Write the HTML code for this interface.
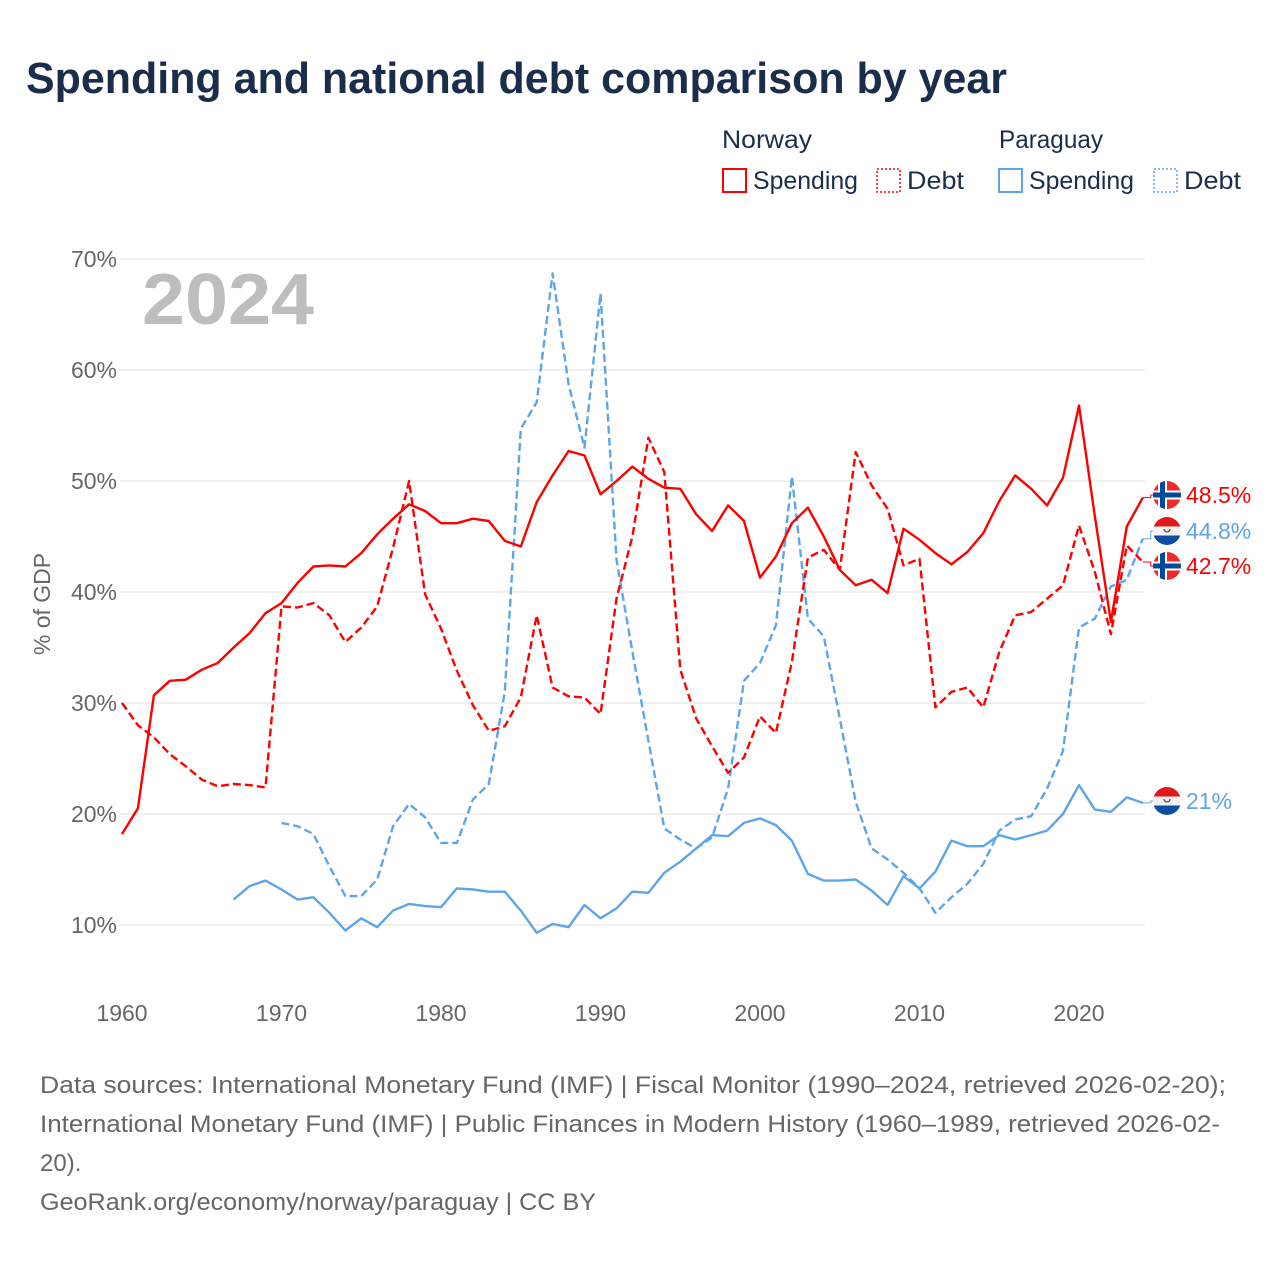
<!DOCTYPE html>
<html><head><meta charset="utf-8"><style>
body{margin:0;background:#fff;width:1280px;height:1280px;overflow:hidden;font-family:"Liberation Sans",sans-serif}
</style></head><body>
<svg id="chart" width="1280" height="1280" xmlns="http://www.w3.org/2000/svg" font-family="Liberation Sans, sans-serif">
<defs>
<clipPath id="fc"><circle cx="0" cy="0" r="14"/></clipPath>
<g id="flag-no">
<g clip-path="url(#fc)"><rect x="-14" y="-14" width="28" height="28" fill="#ef2b2d"/><rect x="-9" y="-14" width="9" height="28" fill="#fff"/><rect x="-14" y="-4.5" width="28" height="9" fill="#fff"/><rect x="-7" y="-14" width="5" height="28" fill="#00489a"/><rect x="-14" y="-2.5" width="28" height="5" fill="#00489a"/></g></g>
<g id="flag-py">
<g clip-path="url(#fc)"><rect x="-14" y="-14" width="28" height="10" fill="#e0191d"/><rect x="-14" y="-4.5" width="28" height="9" fill="#f2f2f2"/><rect x="-14" y="4.5" width="28" height="10" fill="#0b4ea2"/><path d="M-3,-2 A3,3 0 0 0 3,-2" fill="none" stroke="#555" stroke-width="1.3"/></g></g>
</defs>
<text x="26" y="93" font-size="44" font-weight="bold" fill="#1a2e4c" textLength="981" lengthAdjust="spacingAndGlyphs">Spending and national debt comparison by year</text>
<g fill="#1a2e4c" font-size="25">
<text x="722" y="148" textLength="90" lengthAdjust="spacingAndGlyphs">Norway</text>
<text x="999" y="148" textLength="104" lengthAdjust="spacingAndGlyphs">Paraguay</text>
<g><rect x="723" y="169" width="23" height="23" fill="none" stroke="#f00" stroke-width="2"/><text x="753" y="189" textLength="105" lengthAdjust="spacingAndGlyphs">Spending</text></g>
<g><rect x="877" y="169" width="23" height="23" fill="none" stroke="#f00" stroke-width="1.5" stroke-dasharray="2,2"/><text x="907" y="189" textLength="57" lengthAdjust="spacingAndGlyphs">Debt</text></g>
<g><rect x="999" y="169" width="23" height="23" fill="none" stroke="#5ea5e8" stroke-width="2"/><text x="1029" y="189" textLength="105" lengthAdjust="spacingAndGlyphs">Spending</text></g>
<g><rect x="1154" y="169" width="23" height="23" fill="none" stroke="#5ea5e8" stroke-width="1.5" stroke-dasharray="2,2"/><text x="1184" y="189" textLength="57" lengthAdjust="spacingAndGlyphs">Debt</text></g>
</g>
<text x="142" y="324" font-size="72" font-weight="bold" fill="#bdbdbd" textLength="172" lengthAdjust="spacingAndGlyphs">2024</text>
<text transform="translate(50,604) rotate(-90)" text-anchor="middle" font-size="23" fill="#666">% of GDP</text>
<g id="grid"></g><g id="series"></g><g id="ends"></g>
<g font-size="24" fill="#666">
<text x="40" y="1093" textLength="1186" lengthAdjust="spacingAndGlyphs">Data sources: International Monetary Fund (IMF) | Fiscal Monitor (1990–2024, retrieved 2026-02-20);</text>
<text x="40" y="1132" textLength="1180" lengthAdjust="spacingAndGlyphs">International Monetary Fund (IMF) | Public Finances in Modern History (1960–1989, retrieved 2026-02-</text>
<text x="40" y="1171">20).</text>
<text x="40" y="1210" textLength="556" lengthAdjust="spacingAndGlyphs">GeoRank.org/economy/norway/paraguay | CC BY</text>
</g>
</svg>
<script>
const yTicks=[10,20,30,40,50,60,70];
const xTicks=[1960,1970,1980,1990,2000,2010,2020];
const noStart=1960;
const noSpending=[18.2,20.5,30.7,32,32.1,33,33.6,35,36.3,38.1,39,40.8,42.3,42.4,42.3,43.5,45.2,46.6,47.9,47.3,46.2,46.2,46.6,46.4,44.6,44.1,48.1,50.5,52.7,52.3,48.8,50,51.3,50.2,49.4,49.3,47,45.5,47.8,46.4,41.3,43.2,46.2,47.6,45,42,40.6,41.1,39.9,45.7,44.7,43.5,42.5,43.6,45.3,48.2,50.5,49.3,47.8,50.3,56.8,46.8,37.3,45.9,48.5];
const noDebt=[30,28,26.9,25.4,24.3,23.1,22.5,22.7,22.6,22.4,38.7,38.6,39,37.9,35.5,36.8,38.7,44,50,39.8,36.7,32.9,29.8,27.5,27.9,30.5,37.9,31.4,30.6,30.5,29,39.4,45,53.9,50.8,33,28.6,26.1,23.7,25.1,28.8,27.3,33.7,43.1,43.8,42,52.6,49.6,47.5,42.4,43,29.6,31,31.4,29.6,34.6,37.9,38.2,39.4,40.6,46,41.8,36.2,44.2,42.7];
const pySpendStart=1967;
const pySpending=[12.3,13.5,14,13.2,12.3,12.5,11.1,9.5,10.6,9.8,11.3,11.9,11.7,11.6,13.3,13.2,13,13,11.3,9.3,10.1,9.8,11.8,10.6,11.5,13,12.9,14.7,15.7,16.9,18.1,18,19.2,19.6,19,17.6,14.6,14,14,14.1,13.1,11.8,14.4,13.3,14.8,17.6,17.1,17.1,18.1,17.7,18.1,18.5,20,22.6,20.4,20.2,21.5,21];
const pyDebtStart=1970;
const pyDebt=[19.2,18.9,18.2,15.3,12.6,12.6,14.1,18.9,20.9,19.7,17.4,17.4,21.3,22.7,31,54.7,57.1,68.7,58.7,53,66.9,42.9,34.6,26.6,18.7,17.7,16.9,17.9,22.3,32,33.6,37,50.4,37.6,36,28.6,21.1,16.9,15.9,14.7,13.3,11.1,12.5,13.7,15.5,18.5,19.5,19.8,22.3,25.7,36.8,37.6,40.5,41.1,44.8];
const endLabels=["48.5%","44.8%","42.7%","21%"];

const NS="http://www.w3.org/2000/svg";
const X=y=>122+(y-1960)*15.95;
const Y=v=>259+(70-v)*11.1;
function mk(tag,attrs,parent){const e=document.createElementNS(NS,tag);for(const k in attrs)e.setAttribute(k,attrs[k]);parent.appendChild(e);return e;}
const grid=document.getElementById('grid');
yTicks.forEach(t=>{
  const l=mk('line',{x1:120,x2:1145,y1:Y(t),y2:Y(t),stroke:'#e6e6e6','stroke-width':1.3},grid);
  
  
  const tx=mk('text',{x:117,y:Y(t)+8,'text-anchor':'end','font-size':23,fill:'#666'},grid);
  tx.textContent=t+'%';
  
  
});
xTicks.forEach(t=>{
  const tx=mk('text',{x:X(t),y:1021,'text-anchor':'middle','font-size':23,fill:'#666'},grid);
  tx.textContent=t;
  
  
});
const ser=document.getElementById('series');
function line(vals,start,color,dash,name){
  const pts=vals.map((v,i)=>X(start+i).toFixed(1)+','+Y(v).toFixed(1)).join(' ');
  const p=mk('polyline',{points:pts,fill:'none',stroke:color,'stroke-width':2.4,'stroke-linejoin':'round'},ser);
  if(dash)p.setAttribute('stroke-dasharray','8,4');
  
  
}
line(pyDebt,pyDebtStart,'#5ea5e8',true,'paraguay-debt-line');
line(pySpending,pySpendStart,'#5ea5e8',false,'paraguay-spending-line');
line(noDebt,noStart,'#ff0000',true,'norway-debt-line');
line(noSpending,noStart,'#ff0000',false,'norway-spending-line');
const ends=document.getElementById('ends');
const endDefs=[[noSpending[noSpending.length-1],495,'#f00','flag-no'],[pyDebt[pyDebt.length-1],531,'#5ea5e8','flag-py'],[noDebt[noDebt.length-1],566,'#f00','flag-no'],[pySpending[pySpending.length-1],801,'#5ea5e8','flag-py']];
endDefs.forEach((d,i)=>{
  const x0=X(2024),y0=Y(d[0]);
  mk('polyline',{points:`${x0},${y0} ${x0+8},${y0} ${x0+8},${d[1]} ${1153},${d[1]}`,fill:'none',stroke:d[2],'stroke-width':1},ends);
  const u=mk('use',{href:'#'+d[3],x:1167,y:d[1]},ends);
  
  
  const t=mk('text',{x:1186,y:d[1]+8,'font-size':23,fill:d[2]},ends);
  t.textContent=endLabels[i];
  
  
});
</script>
</body></html>
